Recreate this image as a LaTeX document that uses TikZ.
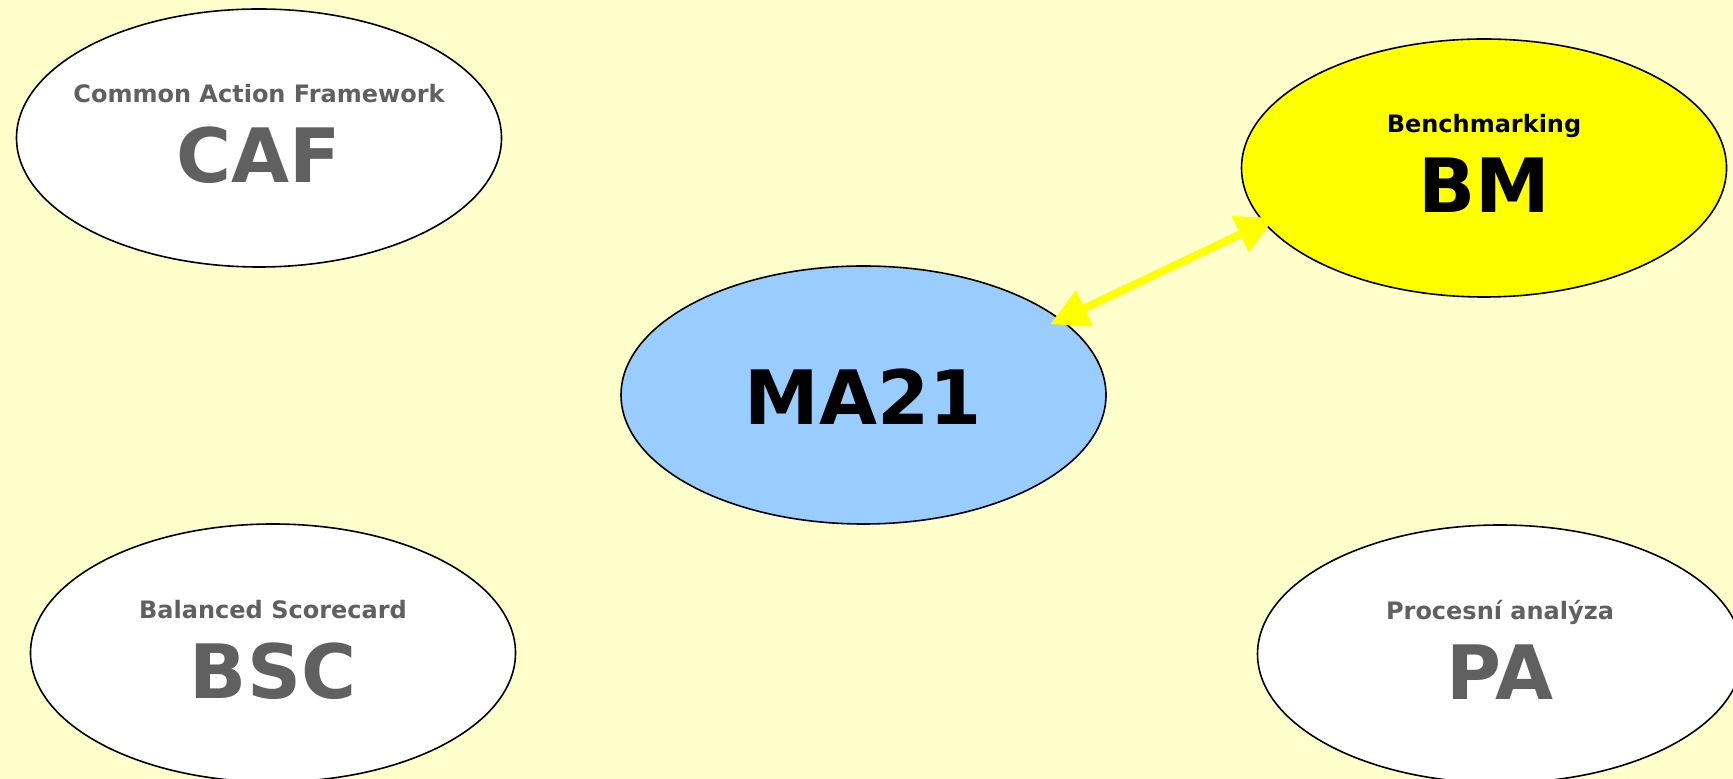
\documentclass[tikz,border=0pt]{standalone}
\usepackage{fontspec}
\setmainfont{DejaVu Sans}
\usepackage{tikz}
\usetikzlibrary{arrows.meta,shapes.geometric}

\definecolor{paper}{HTML}{FFFFCC}
\definecolor{sky}{HTML}{99CCFF}
\definecolor{lemon}{HTML}{FFFF00}
\definecolor{slate}{HTML}{606060}

\begin{document}
\begin{tikzpicture}[x=1pt,y=1pt,
  bubble/.style={ellipse,draw=black,line width=0.8pt,minimum width=242.5pt,minimum height=129pt,inner sep=0pt},
  subtxt/.style={anchor=base,inner sep=0pt,font=\fontsize{12}{14}\selectfont\bfseries},
  maintxt/.style={anchor=base,inner sep=0pt,font=\fontsize{37.5}{44}\selectfont\bfseries},
  link/.style={draw=lemon,line width=3.75pt,{Triangle[length=19pt,width=19pt]}-{Triangle[length=19pt,width=19pt]},
    shorten <=-6pt,shorten >=-6pt}]

  \fill[paper] (0,0) rectangle (866.5,-389.5);
  \useasboundingbox (0,0) rectangle (866.5,-389.5);

  \node[bubble,fill=white] (caf) at (129.5,-69) {};
  \node[subtxt,text=slate] (cafsub) at ([yshift=17.5pt]caf.center) {Common Action Framework};
  \node[maintxt,text=slate] (caftxt) at ([yshift=-22.5pt]caf.center) {CAF};

  \node[bubble,fill=lemon] (bm) at (742,-84) {};
  \node[subtxt] (bmsub) at ([yshift=17.5pt]bm.center) {Benchmarking};
  \node[maintxt] (bmtxt) at ([yshift=-22.5pt]bm.center) {BM};

  \node[bubble,fill=sky] (ma) at (431.75,-197.5) {};
  \node[maintxt] (matxt) at ([yshift=-15pt]ma.center) {MA21};

  \node[bubble,fill=white] (bsc) at (136.5,-326.5) {};
  \node[subtxt,text=slate] (bscsub) at ([yshift=17.5pt]bsc.center) {Balanced Scorecard};
  \node[maintxt,text=slate] (bsctxt) at ([yshift=-22.5pt]bsc.center) {BSC};

  \node[bubble,fill=white] (pa) at (750,-327) {};
  \node[subtxt,text=slate] (pasub) at ([yshift=17.5pt]pa.center) {Procesní analýza};
  \node[maintxt,text=slate] (patxt) at ([yshift=-22.5pt]pa.center) {PA};

  \draw[link] (ma.21) -- (bm.194);

\end{tikzpicture}
\end{document}
